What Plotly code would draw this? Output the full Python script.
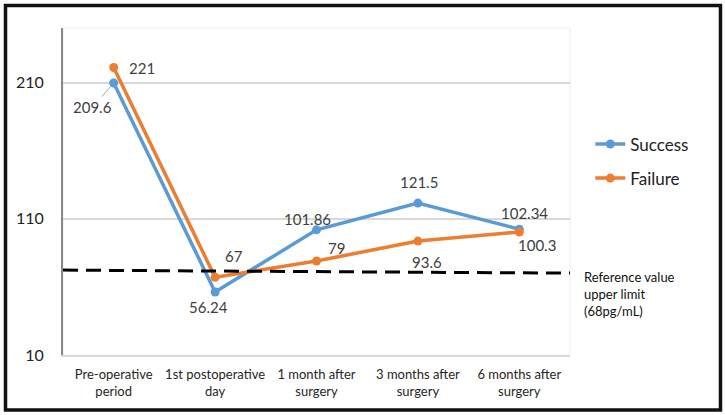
import plotly.graph_objects as go

categories = ["Pre-operative<br>period", "1st postoperative<br>day", "1 month after<br>surgery",
              "3 months after<br>surgery", "6 months after<br>surgery"]
success = [209.6, 56.24, 101.86, 121.5, 102.34]
failure = [221, 67, 79, 93.6, 100.3]
ref_line_y = [72.3, 70.1]
y_ticks = [10, 110, 210]

BLUE = "#5B9BD5"
ORANGE = "#ED7D31"
FONT = "Lato"
TXT = "#404040"

fig = go.Figure()
fig.add_trace(go.Scatter(x=categories, y=success, name="Success", mode="lines+markers",
                         line=dict(color=BLUE, width=3.5), marker=dict(size=9, color=BLUE),
                         legendgroup="s"))
fig.add_trace(go.Scatter(x=categories, y=failure, name="Failure", mode="lines+markers",
                         line=dict(color=ORANGE, width=3.5), marker=dict(size=9, color=ORANGE),
                         legendgroup="f"))

# label offsets (pixels; dy positive = down)
s_off = [None, (-7, 15), (-9, -11), (1, -21), (5, -16)]
f_off = [(28, 0), (19, -21), (20, -13), (9, 21), (18, 13)]

ann = []
for i, (c, v) in enumerate(zip(categories, success)):
    if s_off[i] is None:
        ann.append(dict(x=c, y=v, text=f"{v:g}", showarrow=True, ax=-21, ay=24,
                        arrowhead=0, arrowwidth=1, arrowcolor="#a6a6a6", standoff=5,
                        font=dict(family=FONT, size=15, color=TXT)))
    else:
        dx, dy = s_off[i]
        ann.append(dict(x=c, y=v, text=f"{v:g}", showarrow=False, xshift=dx, yshift=-dy,
                        font=dict(family=FONT, size=15, color=TXT)))
for i, (c, v) in enumerate(zip(categories, failure)):
    dx, dy = f_off[i]
    ann.append(dict(x=c, y=v, text=f"{v:g}", showarrow=False, xshift=dx, yshift=-dy,
                    font=dict(family=FONT, size=15, color=TXT)))

ann.append(dict(xref="paper", yref="paper", x=1.0237, y=0.186, xanchor="left", yanchor="middle",
                align="left", showarrow=False,
                text="Reference value<br>upper limit<br>(68pg/mL)",
                font=dict(family=FONT, size=13, color="#111111")))

shapes = [
    dict(type="rect", xref="paper", yref="paper", x0=0, x1=1, y0=0, y1=1,
         line=dict(color="#eeeeee", width=1), layer="below"),
    dict(type="line", xref="paper", yref="y", x0=0, x1=1, y0=ref_line_y[0], y1=ref_line_y[1],
         line=dict(color="black", width=3, dash="15px,8px")),
    dict(type="rect", xref="paper", yref="paper", x0=-0.1134, x1=1.2968, y0=-0.168, y1=1.0688,
         line=dict(color="#111111", width=3.5)),
]

fig.update_layout(
    width=725, height=415,
    margin=dict(l=63, r=155, t=28, b=60),
    paper_bgcolor="white", plot_bgcolor="white",
    font=dict(family=FONT, color=TXT),
    showlegend=True,
    legend=dict(x=1.04, y=0.592, xanchor="left", yanchor="middle",
                traceorder="grouped", tracegroupgap=9,
                font=dict(family=FONT, size=17, color="#222222"),
                bgcolor="rgba(0,0,0,0)"),
    annotations=ann,
    shapes=shapes,
)
fig.update_xaxes(type="category", showgrid=False, showline=True, linecolor="#d9d9d9", linewidth=2,
                 ticks="", tickfont=dict(family=FONT, size=13, color="#262626"),
                 ticklabelstandoff=6,
                 range=[-0.5, 4.5], zeroline=False)
fig.update_yaxes(range=[10, 250], tickvals=y_ticks, ticktext=[str(t) for t in y_ticks],
                 showgrid=True, gridcolor="#d9d9d9", gridwidth=1.5,
                 showline=True, linecolor="#888888", linewidth=2, ticks="",
                 ticklabelstandoff=14,
                 tickfont=dict(family=FONT, size=16, color="#222222"), zeroline=False)

fig.write_html("out.html")
